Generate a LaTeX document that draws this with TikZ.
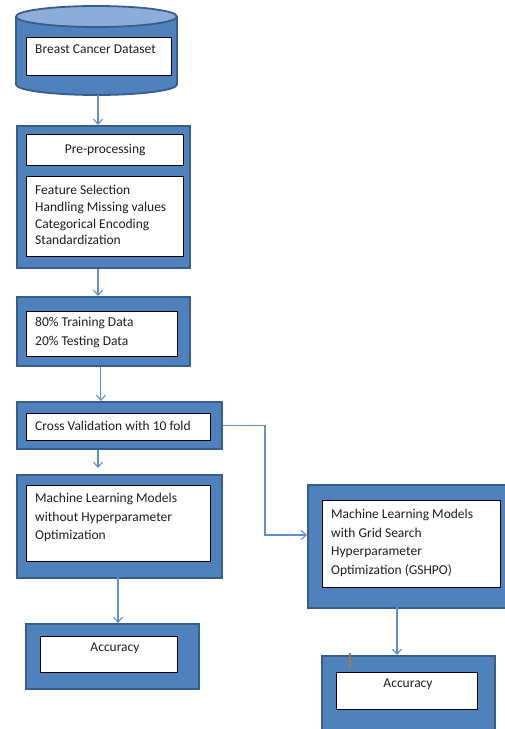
\documentclass[tikz,border=0pt]{standalone}
\usepackage{fontspec}
\setmainfont{Carlito}
\usetikzlibrary{positioning,arrows.meta}
\definecolor{boxFill}{HTML}{4F81BD}
\definecolor{boxLine}{HTML}{385D8A}
\definecolor{capFill}{HTML}{8DADD8}
\definecolor{flowColor}{HTML}{5F8FCB}
\definecolor{tickColor}{HTML}{A87A45}
\definecolor{txtColor}{HTML}{1E1E1E}
\tikzset{>={Straight Barb[length=5pt,width=9pt]}}
\tikzset{
	outerbox/.style={draw=boxLine,fill=boxFill,line width=1.8pt,anchor=north west,inner sep=0pt},
	innerbox/.style={draw=black,fill=white,line width=1.3pt,anchor=north west,inner sep=0pt},
	boxtext/.style={anchor=north west,inner sep=0pt,align=left,text=txtColor,font=\fontsize{13.5}{18.6}\selectfont},
	flow/.style={->,draw=flowColor,line width=1.1pt},
}

\begin{document}
\begin{tikzpicture}[x=1pt,y=-1pt]
				\clip (0,0) rectangle (505,729);
				% dataset cylinder
				\fill[boxFill] (16,16.5) -- (16,84.5) arc[start angle=180,end angle=0,x radius=80.5,y radius=10.5] -- (177,16.5) -- cycle;
				\draw[boxLine,line width=1.8pt] (16,16.5) -- (16,84.5) arc[start angle=180,end angle=0,x radius=80.5,y radius=10.5] -- (177,16.5);
				\filldraw[fill=capFill,draw=boxLine,line width=1.8pt] (96.5,16.5) ellipse[x radius=80.5,y radius=10.5];
				\coordinate (dsBot) at (98,95);
				\node[innerbox,minimum width=145,minimum height=38] (dsIn) at (26,37) {};
				\node[boxtext] (dsText) at (35,45) {Breast Cancer Dataset};
				
				\node[outerbox,minimum width=173,minimum height=142] (prep) at (16,125) {};
				\node[innerbox,minimum width=157,minimum height=31,text=txtColor,font=\fontsize{13.5}{18.6}\selectfont] (prepHead) at (26,134) {Pre-processing};
				\node[innerbox,minimum width=157,minimum height=80] (prepIn) at (26,176) {};
				\node[boxtext,font=\fontsize{13.5}{16.8}\selectfont] (prepText) at (35,185) {Feature Selection\\Handling Missing values\\Categorical Encoding\\Standardization};
				
				\node[outerbox,minimum width=173,minimum height=69] (split) at (16,296) {};
				\node[innerbox,minimum width=151,minimum height=45] (splitIn) at (26,311) {};
				\node[boxtext] (splitText) at (35,317) {80\% Training Data\\20\% Testing Data};
				
				\node[outerbox,minimum width=205,minimum height=47] (cv) at (16,401) {};
				\node[innerbox,minimum width=184,minimum height=27] (cvIn) at (26,413) {};
				\node[boxtext] (cvText) at (35,421) {Cross Validation with 10 fold};
				
				\node[outerbox,minimum width=205,minimum height=103] (mlA) at (16,474) {};
				\node[innerbox,minimum width=184,minimum height=76] (mlAIn) at (26,485) {};
				\node[boxtext] (mlAText) at (35,493) {Machine Learning Models\\without Hyperparameter\\Optimization};
				
				\node[outerbox,minimum width=210,minimum height=123] (mlB) at (307,484) {};
				\node[innerbox,minimum width=178,minimum height=87] (mlBIn) at (322,500) {};
				\node[boxtext] (mlBText) at (331,509) {Machine Learning Models\\with Grid Search\\Hyperparameter\\Optimization (GSHPO)};
				
				\node[outerbox,minimum width=173,minimum height=65] (accA) at (25,623) {};
				\node[innerbox,minimum width=137,minimum height=36] (accAIn) at (40,636) {};
				\node[text=txtColor,font=\fontsize{13.5}{18.6}\selectfont,inner sep=0pt] (accAText) at (115,648) {Accuracy};
				
				\node[outerbox,minimum width=173,minimum height=90] (accB) at (321,655) {};
				\node[innerbox,minimum width=141,minimum height=37] (accBIn) at (336,672) {};
				\node[text=txtColor,font=\fontsize{13.5}{18.6}\selectfont,inner sep=0pt] (accBText) at (408,684) {Accuracy};
				\draw[tickColor,line width=1.8pt] (350,653) -- (350,668);
				
				% connectors
				\coordinate (cvTurn) at (265,535);
				\coordinate (mlAOut) at (118,577);
				\coordinate (mlBOut) at (397,607);
				\draw[flow] (dsBot) -- (dsBot |- prep.north);
				\draw[flow] (prep.south -| dsBot) -- (dsBot |- split.north);
				\draw[flow] ([xshift=-2.5pt]split.south) -- ([xshift=-2.5pt]split.south |- cv.north);
				\draw[flow] (cv.south -| dsBot) -- ([yshift=6pt]mlA.north -| dsBot);
				\draw[flow] (cv.east) -| (cvTurn) -- (cvTurn -| mlB.west);
				\draw[flow] (mlAOut) -- (mlAOut |- accA.north);
				\draw[flow] (mlBOut) -- (mlBOut |- accB.north);
\end{tikzpicture}
\end{document}
